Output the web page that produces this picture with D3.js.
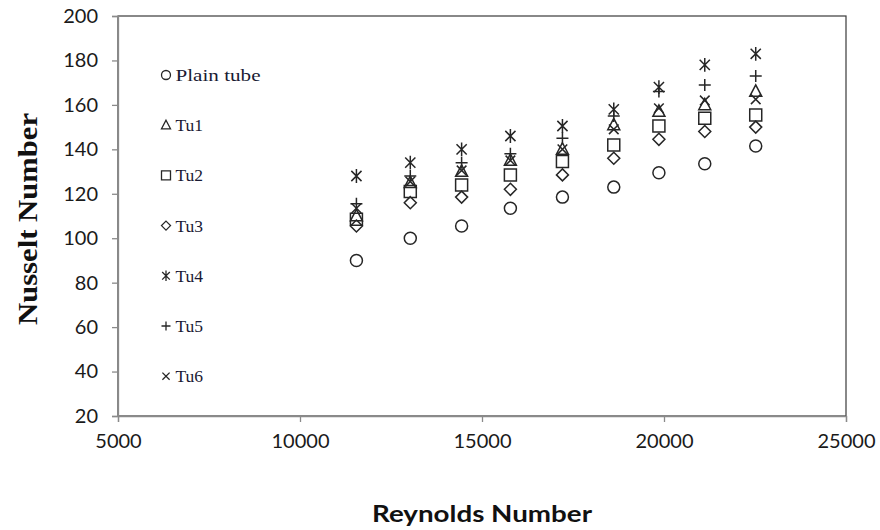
<!DOCTYPE html>
<html>
<head>
<meta charset="utf-8">
<script src="https://cdn.jsdelivr.net/npm/d3@7"></script>
<style>
  body { margin: 0; background: #fff; }
  .tick text { font-family: Lato, "Open Sans", sans-serif; font-size: 20px; fill: #1a1a1a; }
</style>
</head>
<body>
<svg id="chart" width="880" height="530"></svg>
<script>
// Reynolds number of each test point
var reynolds = [11550, 13030, 14440, 15780, 17210, 18620, 19860, 21120, 22520]

// Nusselt number for each tube
var plainTube = [90, 100, 105.5, 113.5, 118.5, 123, 129.5, 133.5, 141.5]
var tu1 = [110, 125, 130, 135, 140, 151, 157, 160, 166]
var tu2 = [108.5, 121, 124, 128.5, 134.5, 142, 150.5, 154, 155.5]
var tu3 = [105.5, 116, 118.5, 122, 128.5, 136, 144.5, 148, 150]
var tu4 = [128, 134, 140, 146, 150.5, 158, 168, 178, 183]
var tu5 = [115.5, 128, 134, 138, 145, 155, 166, 169, 173]
var tu6 = [113.5, 125.5, 130.5, 135, 140, 149, 158.5, 162, 162.5]

var seriesNames = ["Plain tube", "Tu1", "Tu2", "Tu3", "Tu4", "Tu5", "Tu6"]
var seriesShapes = ["circle", "triangle", "square", "diamond", "asterisk", "plus", "cross"]
var seriesValues = [plainTube, tu1, tu2, tu3, tu4, tu5, tu6]

var xTicks = [5000, 10000, 15000, 20000, 25000]
var yTicks = [20, 40, 60, 80, 100, 120, 140, 160, 180, 200]

var Plot = { left: 118, right: 846, top: 16, bottom: 416 }

// path for one marker, centered on 0,0, s = half size
function markerPath(shape, s) {
  if (shape == "circle") {
    return d3.symbol(d3.symbolCircle, Math.PI * s * s)()
  }
  if (shape == "square") {
    return "M" + -s + "," + -s + "H" + s + "V" + s + "H" + -s + "Z"
  }
  if (shape == "triangle") {
    return "M0," + (-s * 1.1) + "L" + s + "," + s * 0.8 + "H" + -s + "Z"
  }
  if (shape == "diamond") {
    return "M0," + -s + "L" + s + ",0L0," + s + "L" + -s + ",0Z"
  }
  if (shape == "plus") {
    return "M0," + -s + "V" + s + "M" + -s + ",0H" + s
  }
  if (shape == "cross") {
    var c = s * 0.8
    return "M" + -c + "," + -c + "L" + c + "," + c + "M" + -c + "," + c + "L" + c + "," + -c
  }
  // asterisk: cross plus vertical stroke
  var a = s * 0.85
  var h = s * 1.15
  return "M" + -a + "," + -a + "L" + a + "," + a + "M" + -a + "," + a + "L" + a + "," + -a +
         "M0," + -h + "V" + h
}

function main() {
  var svg = d3.select("#chart")

  var xScale = d3.scaleLinear()
    .domain([5000, 25000])
    .range([Plot.left, Plot.right])

  var yScale = d3.scaleLinear()
    .domain([20, 200])
    .range([Plot.bottom, Plot.top])

  // plot area border
  svg.append("rect")
    .attr("x", Plot.left)
    .attr("y", Plot.top)
    .attr("width", Plot.right - Plot.left)
    .attr("height", Plot.bottom - Plot.top)
    .attr("fill", "none")
    .attr("stroke", "#3a3a3a")
    .attr("stroke-width", 1.2)

  // x axis
  var xAxis = svg.append("g")
    .attr("transform", "translate(0," + Plot.bottom + ")")
    .call(d3.axisBottom(xScale).tickValues(xTicks).tickSize(6).tickPadding(12).tickFormat(d3.format("d")))
  xAxis.select(".domain").attr("stroke", "#8a8a8a").attr("stroke-width", 1.3)
  xAxis.selectAll(".tick line").attr("stroke", "#8a8a8a").attr("stroke-width", 1.3)

  // y axis
  var yAxis = svg.append("g")
    .attr("transform", "translate(" + Plot.left + ",0)")
    .call(d3.axisLeft(yScale).tickValues(yTicks).tickSize(6).tickPadding(14))
  yAxis.select(".domain").attr("stroke", "#8a8a8a").attr("stroke-width", 1.3)
  yAxis.selectAll(".tick line").attr("stroke", "#8a8a8a").attr("stroke-width", 1.3)

  // axis titles
  svg.append("text")
    .attr("x", (Plot.left + Plot.right) / 2)
    .attr("y", 522)
    .attr("text-anchor", "middle")
    .attr("font-family", "Lato, 'Open Sans', sans-serif")
    .attr("font-weight", "bold")
    .attr("font-size", 22)
    .attr("textLength", 220)
    .attr("lengthAdjust", "spacingAndGlyphs")
    .attr("fill", "#111")
    .text("Reynolds Number")

  svg.append("text")
    .attr("transform", "translate(37,219) rotate(-90)")
    .attr("text-anchor", "middle")
    .attr("font-family", "'Liberation Serif', 'Times New Roman', serif")
    .attr("font-weight", "bold")
    .attr("font-size", 27)
    .attr("textLength", 212)
    .attr("lengthAdjust", "spacingAndGlyphs")
    .attr("fill", "#111")
    .text("Nusselt Number")

  // data markers
  seriesValues.forEach(function(values, k) {
    svg.append("g")
      .attr("class", "series")
      .selectAll("path")
      .data(values)
      .enter()
      .append("path")
      .attr("transform", function(d, i) {
        return "translate(" + xScale(reynolds[i]) + "," + yScale(d) + ")"
      })
      .attr("d", markerPath(seriesShapes[k], 6))
      .attr("fill", "none")
      .attr("stroke", "#262626")
      .attr("stroke-width", 1.5)
  })

  // legend inside the plot area
  var legend = svg.append("g")
    .selectAll("g")
    .data(seriesNames)
    .enter()
    .append("g")
    .attr("transform", function(d, i) { return "translate(166," + (75 + i * 50.2) + ")" })

  legend.append("path")
    .attr("d", function(d, i) { return markerPath(seriesShapes[i], 4.5) })
    .attr("fill", "none")
    .attr("stroke", "#262626")
    .attr("stroke-width", 1.3)

  legend.append("text")
    .attr("x", 9.5)
    .attr("y", 6)
    .attr("font-family", "'Liberation Serif', 'Times New Roman', serif")
    .attr("font-size", 17.5)
    .attr("fill", "#1a1a33")
    .attr("textLength", function(d) { return d == "Plain tube" ? 85 : null })
    .attr("lengthAdjust", "spacingAndGlyphs")
    .text(function(d) { return d })
}

main()
</script>
</body>
</html>
